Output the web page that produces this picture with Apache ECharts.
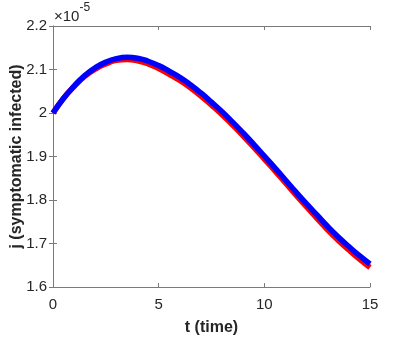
<!DOCTYPE html>
<html>
<head>
<meta charset="utf-8">
<script src="https://cdn.jsdelivr.net/npm/echarts@6/dist/echarts.min.js"></script>
<style>
  html,body{margin:0;padding:0;background:#fff;}
  #chart{width:409px;height:354px;}
</style>
</head>
<body>
<div id="chart"></div>
<script>
// time points (t) and j values in units of 1e-5
var tValues = [0, 0.5, 1, 1.5, 2, 2.5, 3, 3.5, 4, 4.5, 5, 5.5, 6, 6.5, 7, 7.5, 8, 8.5, 9, 9.5, 10, 10.5, 11, 11.5, 12, 12.5, 13, 13.5, 14, 14.5, 15];
var redValues = [2.000, 2.034, 2.061, 2.084, 2.101, 2.113, 2.121, 2.123, 2.120, 2.113, 2.102, 2.089, 2.075, 2.058, 2.039, 2.018, 1.996, 1.972, 1.947, 1.921, 1.894, 1.867, 1.839, 1.811, 1.784, 1.757, 1.731, 1.707, 1.685, 1.664, 1.645];
var blueValues = [2.000, 2.034, 2.062, 2.086, 2.104, 2.117, 2.125, 2.128, 2.126, 2.119, 2.109, 2.096, 2.082, 2.065, 2.046, 2.025, 2.003, 1.979, 1.954, 1.928, 1.901, 1.874, 1.846, 1.818, 1.791, 1.765, 1.739, 1.715, 1.693, 1.672, 1.653];
var xTicks = [0, 5, 10, 15];
var yTicks = [1.6, 1.7, 1.8, 1.9, 2.0, 2.1, 2.2];

var axisColor = '#7a7a7a';
var textColor = '#262626';
var fontFam = '"Liberation Sans", Arial, Helvetica, sans-serif';

function pairs(xs, ys){
  var res = [];
  for(var i=0;i<xs.length;i++){
    res.push([xs[i], ys[i]]);
  }
  return res;
}

function fmt(v){
  // matlab style, no trailing zeros
  return String(parseFloat((+v).toFixed(1)));
}

var chart = echarts.init(document.getElementById('chart'), null, {renderer:'canvas'});

var baseX = {
  type:'value',
  min:xTicks[0],
  max:xTicks[xTicks.length-1],
  interval:5,
  axisLine:{show:true, lineStyle:{color:axisColor, width:1}},
  axisTick:{show:true, inside:true, length:4, lineStyle:{color:axisColor}},
  splitLine:{show:false}
};
var baseY = {
  type:'value',
  min:yTicks[0],
  max:yTicks[yTicks.length-1],
  interval:0.1,
  axisLine:{show:true, lineStyle:{color:axisColor, width:1}},
  axisTick:{show:true, inside:true, length:4, lineStyle:{color:axisColor}},
  splitLine:{show:false}
};

var option = {
  backgroundColor:'#fff',
  animation:false,
  grid:{left:53, right:39, top:26, bottom:67, containLabel:false, outerBoundsMode:'none'},
  xAxis:[
    echarts.util.merge({
      position:'bottom',
      name:'t (time)',
      nameLocation:'middle',
      nameGap:33,
      nameMoveOverlap:false,
      nameTextStyle:{color:textColor, fontSize:16, fontWeight:'bold', fontFamily:fontFam},
      axisLabel:{color:textColor, fontSize:15, fontFamily:fontFam, margin:10, formatter:fmt}
    }, baseX, true),
    echarts.util.merge({
      position:'top',
      axisLabel:{show:false}
    }, baseX, true)
  ],
  yAxis:[
    echarts.util.merge({
      position:'left',
      name:'j (symptomatic infected)',
      nameLocation:'middle',
      nameGap:28,
      nameMoveOverlap:false,
      nameTextStyle:{color:textColor, fontSize:16, fontWeight:'bold', fontFamily:fontFam},
      axisLabel:{color:textColor, fontSize:15, fontFamily:fontFam, margin:6, formatter:fmt}
    }, baseY, true),
    echarts.util.merge({
      position:'right',
      axisLabel:{show:false}
    }, baseY, true)
  ],
  graphic:[{
    type:'text',
    left:54,
    top:2,
    style:{
      text:'{a|\u00d710}{b|-5}',
      fill:textColor,
      rich:{
        a:{fontSize:15, fontFamily:fontFam, fill:textColor, verticalAlign:'bottom', padding:[7,0,0,0]},
        b:{fontSize:12, fontFamily:fontFam, fill:textColor, verticalAlign:'top'}
      }
    }
  }],
  series:[
    {
      name:'red',
      type:'line',
      smooth:true,
      showSymbol:false,
      data:pairs(tValues, redValues),
      lineStyle:{color:'#ff0000', width:5.5},
      itemStyle:{color:'#ff0000'}
    },
    {
      name:'blue',
      type:'line',
      smooth:true,
      showSymbol:false,
      data:pairs(tValues, blueValues),
      lineStyle:{color:'#0000ff', width:5.5},
      itemStyle:{color:'#0000ff'}
    }
  ]
};
chart.setOption(option);
</script>
</body>
</html>
